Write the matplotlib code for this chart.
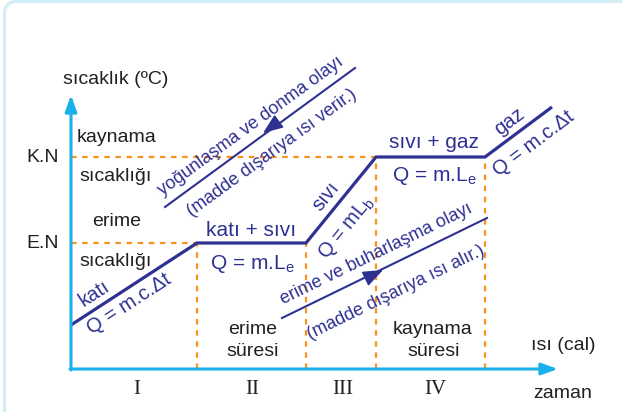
import matplotlib
matplotlib.use("Agg")
import matplotlib.pyplot as plt
from matplotlib.patches import FancyBboxPatch

plt.rcParams['font.family'] = ['Liberation Sans', 'DejaVu Sans']
plt.rcParams['mathtext.fontset'] = 'custom'
plt.rcParams['mathtext.rm'] = 'Liberation Sans'
plt.rcParams['mathtext.it'] = 'Liberation Sans:italic'

# ---- data (heat on x, temperature on y, arbitrary units) ----
heat = [0, 126, 235, 305, 414, 481]
temp = [44, 126, 126, 212, 212, 262]
EN = 126
KN = 212
x_axis_end = 487
y_axis_end = 274
# condensation (cooling) arrow and evaporation (heating) arrow
cond_x = [284, 94]
cond_y = [301, 162]
cond_head = (192, 236)
evap_x = [211, 416]
evap_y = [51, 151]
evap_head = (312, 99)
regions = ['I', 'II', 'III', 'IV']
region_x = [66, 181, 272, 364]

NAVY = '#2e3192'
ORANGE = '#f7931e'
CYAN = '#1ab0ea'
BLACK = '#231f20'

fig = plt.figure(figsize=(6.22, 4.12), dpi=100)
ax = fig.add_axes([0, 0, 1, 1])
ax.set_xlim(-71, 551)
ax.set_ylim(-43, 369)
ax.axis('off')

# frame
frame = FancyBboxPatch((-66.5, -80), 700, 447.5,
                       boxstyle='round,pad=0,rounding_size=12',
                       fc='none', ec='#d3edf6', lw=2.2, clip_on=False)
ax.add_patch(frame)

# dashed guides
dash = dict(color=ORANGE, lw=1.6, dashes=(2.5, 2.5))
ax.plot([0, heat[1]], [EN, EN], **dash)
ax.plot([0, heat[3]], [KN, KN], **dash)
for i, lvl in [(1, EN), (2, EN), (3, KN), (4, KN)]:
    ax.plot([heat[i], heat[i]], [0, lvl], **dash)

# axes arrows
ap = dict(arrowstyle='-|>,head_length=0.7,head_width=0.25', color=CYAN,
          lw=2.2, mutation_scale=14, shrinkA=0, shrinkB=0)
ax.annotate('', xy=(0, y_axis_end), xytext=(0, -1), arrowprops=ap)
ax.annotate('', xy=(x_axis_end, 0), xytext=(-1, 0), arrowprops=ap)

# heating curve
ax.plot(heat, temp, color=NAVY, lw=2.3, solid_capstyle='butt', solid_joinstyle='miter')

# process arrows
ax.plot(cond_x, cond_y, color=NAVY, lw=1.5)
ax.plot(evap_x, evap_y, color=NAVY, lw=1.5)
hp = dict(arrowstyle='-|>,head_length=0.9,head_width=0.35', color=NAVY,
          lw=1.0, mutation_scale=14, shrinkA=0, shrinkB=0)
cdx = cond_x[1] - cond_x[0]; cdy = cond_y[1] - cond_y[0]
ax.annotate('', xy=cond_head, xytext=(cond_head[0] - 0.08 * cdx, cond_head[1] - 0.08 * cdy), arrowprops=hp)
edx = evap_x[1] - evap_x[0]; edy = evap_y[1] - evap_y[0]
ax.annotate('', xy=evap_head, xytext=(evap_head[0] - 0.08 * edx, evap_head[1] - 0.08 * edy), arrowprops=hp)

def P(px, py):
    return px - 71, 369 - py

def txt(px, py, s, size=14, color=BLACK, rot=0, **kw):
    x, y = P(px, py)
    ax.text(x, y, s, fontsize=size, color=color, rotation=rot,
            rotation_mode='anchor', ha='center', va='center', **kw)

# black labels
txt(116, 79, 'sıcaklık (ºC)')
txt(43, 157, 'K.N')
txt(43, 244, 'E.N')
txt(116, 137, 'kaynama')
txt(116, 176, 'sıcaklığı')
txt(117, 221, 'erime')
txt(116, 261, 'sıcaklığı')
txt(253, 329, 'erime')
txt(253, 352, 'süresi')
txt(433, 329, 'kaynama')
txt(434, 352, 'süresi')
txt(563, 345, 'ısı (cal)')
txt(563, 394, 'zaman')
for r, rx in zip(regions, region_x):
    ax.text(rx, 369 - 389, r, fontsize=15, color=BLACK, ha='center', va='center',
            family='Liberation Serif')

# navy curve labels
txt(251, 230, 'katı + sıvı', size=15, color=NAVY)
txt(252, 264, 'Q = m.L$_\\mathrm{e}$', size=15, color=NAVY)
txt(434, 142, 'sıvı + gaz', size=15, color=NAVY)
txt(434, 176, 'Q = m.L$_\\mathrm{e}$', size=15, color=NAVY)
txt(94, 294, 'katı', size=14.5, color=NAVY, rot=33)
txt(129, 304, 'Q = m.c.Δt', size=14.5, color=NAVY, rot=33)
txt(326, 196, 'sıvı', size=14.5, color=NAVY, rot=51)
txt(346, 228, 'Q = mL$_\\mathrm{b}$', size=14.5, color=NAVY, rot=51)
txt(509, 122, 'gaz', size=14.5, color=NAVY, rot=37)
txt(534, 144, 'Q = m.c.Δt', size=14.5, color=NAVY, rot=37)

# process labels
txt(251, 126, 'yoğunlaşma ve donma olayı', size=13, color=NAVY, rot=36)
txt(272, 153, '(madde dışarıya ısı verir.)', size=13, color=NAVY, rot=36)
txt(376, 254, 'erime ve buharlaşma olayı', size=13, color=NAVY, rot=26)
txt(396, 293, '(madde dışarıya ısı alır.)', size=13, color=NAVY, rot=26)

fig.savefig('out.png', dpi=100, facecolor='white')
